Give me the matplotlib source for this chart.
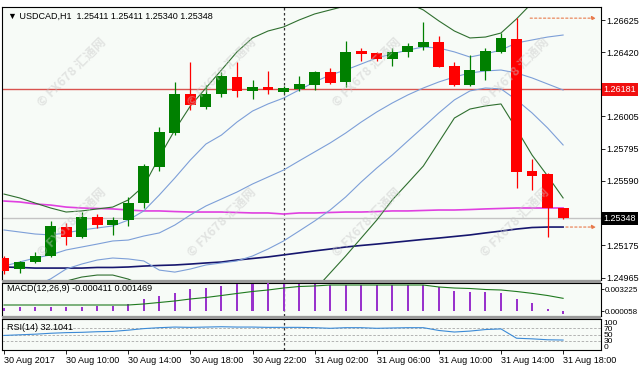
import matplotlib
matplotlib.use("Agg")
import matplotlib.pyplot as plt
import matplotlib.transforms as mtransforms
from matplotlib.patches import Rectangle

# USDCAD H1, 30 Aug 2017 06:00 -> 31 Aug 2017 18:00 (37 candles)
opens = [1.25091, 1.25020, 1.25065, 1.25104, 1.25291, 1.25227, 1.25356, 1.25304, 1.25336, 1.25446,
         1.25679, 1.25898, 1.26150, 1.26066, 1.26150, 1.26260, 1.26170, 1.26195, 1.26163, 1.26183,
         1.26208, 1.26292, 1.26228, 1.26428, 1.26415, 1.26376, 1.26422, 1.26454, 1.26486, 1.26331,
         1.26208, 1.26299, 1.26422, 1.26506, 1.25653, 1.25633, 1.25411]
highs = [1.25104, 1.25072, 1.25130, 1.25330, 1.25317, 1.25388, 1.25375, 1.25356, 1.25485, 1.25698,
         1.25937, 1.26228, 1.26357, 1.26208, 1.26292, 1.26357, 1.26241, 1.26299, 1.26202, 1.26267,
         1.26299, 1.26318, 1.26493, 1.26447, 1.26422, 1.26447, 1.26480, 1.26615, 1.26525, 1.26357,
         1.26402, 1.26447, 1.26544, 1.26640, 1.25730, 1.25640, 1.25411]
lows = [1.24988, 1.24994, 1.25059, 1.25097, 1.25175, 1.25220, 1.25285, 1.25240, 1.25298, 1.25414,
        1.25653, 1.25885, 1.26047, 1.26053, 1.26131, 1.26131, 1.26118, 1.26150, 1.26157, 1.26170,
        1.26176, 1.26215, 1.26195, 1.26363, 1.26363, 1.26331, 1.26389, 1.26434, 1.26325, 1.26202,
        1.26202, 1.26241, 1.26415, 1.25543, 1.25530, 1.25227, 1.25340]
closes = [1.25007, 1.25065, 1.25104, 1.25298, 1.25227, 1.25356, 1.25304, 1.25336, 1.25446, 1.25685,
          1.25905, 1.26150, 1.26079, 1.26150, 1.26267, 1.26170, 1.26195, 1.26176, 1.26189, 1.26215,
          1.26292, 1.26221, 1.26422, 1.26409, 1.26376, 1.26422, 1.26460, 1.26486, 1.26325, 1.26208,
          1.26305, 1.26428, 1.26512, 1.25646, 1.25621, 1.25414, 1.25348]

# bollinger bands (dev 2 dark green, dev 1 + middle light blue)
bb_up2 = [1.25504, 1.25479, 1.25446, 1.25414, 1.25388, 1.25395, 1.25408, 1.25420, 1.25466, 1.25556,
          1.25743, 1.25918, 1.26073, 1.26189, 1.26305, 1.26422, 1.26512, 1.26557, 1.26583, 1.26628,
          1.26667, 1.26693, 1.26719, 1.26745, 1.26757, 1.26757, 1.26738, 1.26693, 1.26622, 1.26557,
          1.26512, 1.26518, 1.26544, 1.26635, 1.26738, 1.26822, 1.26874]
bb_up1 = [1.25272, 1.25259, 1.25246, 1.25240, 1.25253, 1.25272, 1.25285, 1.25298, 1.25336, 1.25395,
          1.25498, 1.25608, 1.25724, 1.25827, 1.25885, 1.25969, 1.26040, 1.26086, 1.26124, 1.26176,
          1.26228, 1.26273, 1.26305, 1.26344, 1.26383, 1.26409, 1.26434, 1.26454, 1.26447, 1.26422,
          1.26389, 1.26409, 1.26434, 1.26480, 1.26499, 1.26518, 1.26531]
bb_mid = [1.25039, 1.25065, 1.25091, 1.25111, 1.25143, 1.25162, 1.25181, 1.25201, 1.25207, 1.25233,
          1.25253, 1.25304, 1.25369, 1.25427, 1.25472, 1.25517, 1.25569, 1.25614, 1.25659, 1.25718,
          1.25776, 1.25834, 1.25898, 1.25969, 1.26034, 1.26092, 1.26144, 1.26189, 1.26228, 1.26260,
          1.26286, 1.26299, 1.26305, 1.26286, 1.26254, 1.26215, 1.26176]
bb_low1 = [1.24807, 1.24858, 1.24910, 1.24956, 1.25020, 1.25052, 1.25078, 1.25091, 1.25085, 1.25072,
           1.25013, 1.25000, 1.25020, 1.25046, 1.25059, 1.25072, 1.25104, 1.25149, 1.25201, 1.25265,
           1.25330, 1.25401, 1.25485, 1.25582, 1.25672, 1.25756, 1.25847, 1.25937, 1.26028, 1.26112,
           1.26170, 1.26189, 1.26183, 1.26112, 1.26028, 1.25931, 1.25821]
bb_low2 = [1.24574, 1.24652, 1.24736, 1.24807, 1.24942, 1.24968, 1.24981, 1.24981, 1.24955, 1.24910,
           1.24762, 1.24690, 1.24665, 1.24665, 1.24639, 1.24613, 1.24626, 1.24671, 1.24736, 1.24807,
           1.24884, 1.24994, 1.25104, 1.25220, 1.25336, 1.25466, 1.25575, 1.25685, 1.25840, 1.25995,
           1.26053, 1.26073, 1.26086, 1.25924, 1.25756, 1.25621, 1.25479]

ma_magenta = [1.25459, 1.25453, 1.25440, 1.25433, 1.25420, 1.25414, 1.25411, 1.25408, 1.25401, 1.25395,
              1.25395, 1.25391, 1.25388, 1.25388, 1.25388, 1.25385, 1.25382, 1.25382, 1.25375, 1.25382,
              1.25382, 1.25385, 1.25388, 1.25388, 1.25391, 1.25395, 1.25395, 1.25398, 1.25401, 1.25401,
              1.25404, 1.25408, 1.25411, 1.25414, 1.25414, 1.25414, 1.25414]
ma_navy = [1.25033, 1.25030, 1.25026, 1.25026, 1.25026, 1.25026, 1.25030, 1.25030, 1.25033, 1.25039,
           1.25043, 1.25046, 1.25052, 1.25059, 1.25065, 1.25078, 1.25088, 1.25098, 1.25111, 1.25124,
           1.25137, 1.25149, 1.25162, 1.25172, 1.25181, 1.25191, 1.25201, 1.25211, 1.25220, 1.25230,
           1.25240, 1.25253, 1.25265, 1.25278, 1.25288, 1.25291, 1.25291]

macd_hist = [0.00044, 0.00059, 0.00059, 0.00059, 0.00059, 0.00059, 0.00073, 0.00073, 0.00103, 0.00172,
             0.00220, 0.00268, 0.00318, 0.00342, 0.00367, 0.00391, 0.00400, 0.00406, 0.00403, 0.00391,
             0.00391, 0.00381, 0.00381, 0.00381, 0.00381, 0.00381, 0.00381, 0.00381, 0.00352, 0.00293,
             0.00279, 0.00279, 0.00264, 0.00176, 0.00117, 0.00022, -0.000411]
macd_signal = [0.00088, 0.00088, 0.00088, 0.00088, 0.00088, 0.00088, 0.00088, 0.00088, 0.00088, 0.00103,
               0.00125, 0.00147, 0.00176, 0.00198, 0.00227, 0.00257, 0.00286, 0.00308, 0.00337, 0.00359,
               0.00367, 0.00381, 0.00381, 0.00381, 0.00381, 0.00381, 0.00381, 0.00381, 0.00352, 0.00337,
               0.00330, 0.00315, 0.00308, 0.00286, 0.00259, 0.00227, 0.00186]
rsi = [47, 49, 51, 54, 56, 57, 59, 60, 64, 69, 72, 74, 73, 74, 75, 74, 74, 73, 73, 73,
       72, 70, 72, 72, 70, 71, 72, 72, 63, 58, 61, 66, 68, 38, 36, 33, 32.1041]

price_ticks = [1.26625, 1.26420, 1.26210, 1.26005, 1.25795, 1.25590, 1.25380, 1.25175, 1.24965]
time_idx = [0, 4, 8, 12, 16, 20, 24, 28, 32, 36]
time_labels = ["30 Aug 2017", "30 Aug 10:00", "30 Aug 14:00", "30 Aug 18:00", "30 Aug 22:00",
               "31 Aug 02:00", "31 Aug 06:00", "31 Aug 10:00", "31 Aug 14:00", "31 Aug 18:00"]
day_sep = 18        # 31 Aug 00:00
hline_price = 1.26181
bid = 1.25348

W, H = 640, 371
FONT = ["Liberation Sans", "DejaVu Sans"]
plt.rcParams["font.family"] = FONT
plt.rcParams["font.size"] = 6.5

BG = "#f7fbf7"
UP, DN = "#008000", "#ff0000"


def rect(x0, y0, x1, y1):
    return [x0 / W, 1 - y1 / H, (x1 - x0) / W, (y1 - y0) / H]


fig = plt.figure(figsize=(W / 100, H / 100), dpi=100)
fig.patch.set_facecolor("white")
ax = fig.add_axes(rect(2, 7, 601, 280))
ax_m = fig.add_axes(rect(2, 283, 601, 316))
ax_r = fig.add_axes(rect(2, 319, 601, 350))

# gray separators between windows
for y0, y1 in [(280, 283), (316, 319)]:
    fig.patches.append(Rectangle((2 / W, 1 - y1 / H), 599 / W, (y1 - y0) / H,
                                 transform=fig.transFigure, facecolor="#9a9a9a",
                                 edgecolor="none"))

xs = list(range(len(opens)))
xlim = (-0.13, 38.44)

for a in (ax, ax_m, ax_r):
    a.set_facecolor(BG)
    a.set_xlim(*xlim)
    for s in a.spines.values():
        s.set_linewidth(0.8)
        s.set_color("black")
    a.axvline(day_sep, color="#333333", lw=0.9, ls=(0, (2, 2)), zorder=1)
    a.yaxis.tick_right()
    a.tick_params(axis="y", direction="out", length=3, width=0.6, pad=1, labelsize=6.5)
    a.tick_params(axis="x", bottom=False, labelbottom=False)

# ---- main window
ax.set_ylim(1.24949, 1.26712)
ax.axhline(hline_price, color="#d9534f", lw=1.0, zorder=1)
ax.axhline(bid, color="#c4c4c4", lw=1.0, zorder=1)

ax.plot(xs, ma_navy, color="#16166e", lw=1.2, zorder=2)
ax.plot(xs, ma_magenta, color="#e040e0", lw=1.2, zorder=2)
for band in (bb_up1, bb_mid, bb_low1):
    ax.plot(xs, band, color="#7d9fd8", lw=0.8, zorder=2)
for band in (bb_up2, bb_low2):
    ax.plot(xs, band, color="#2f6f2f", lw=0.8, zorder=2)

for i in xs:
    o, h, l, c = opens[i], highs[i], lows[i], closes[i]
    col = UP if c >= o else DN
    ax.vlines(i, l, h, color=col, lw=0.9, zorder=3)
    body = max(abs(c - o), 0.00007)
    ax.bar(i, body, bottom=min(o, c), width=0.7, color=col, lw=0, zorder=4)

# high / low dotted arrows
ax.annotate("", xy=(38.3, highs[33]), xytext=(33.7, highs[33]),
            arrowprops=dict(arrowstyle="-|>", color="#e8794a", lw=0.8, ls=(0, (2, 2)),
                            mutation_scale=6), zorder=5)
ax.annotate("", xy=(38.3, ma_navy[-1]), xytext=(36.0, ma_navy[-1]),
            arrowprops=dict(arrowstyle="-|>", color="#e8794a", lw=0.8, ls=(0, (2, 2)),
                            mutation_scale=6), zorder=5)

# ticks under the two price boxes keep their marks, the boxes cover their text
ax.set_yticks(price_ticks)
ax.set_yticklabels([f"{p:.5f}" if abs(p - hline_price) > 0.0005 and abs(p - bid) > 0.0005
                    else "" for p in price_ticks])

tr = mtransforms.blended_transform_factory(ax.transAxes, ax.transData)
ax.text(1.004, hline_price, "1.26181", transform=tr, ha="left", va="center", color="white",
        fontsize=6.5, zorder=10, clip_on=False,
        bbox=dict(boxstyle="square,pad=0.2", fc="#f01010", ec="none"))
ax.text(1.004, bid, "1.25348", transform=tr, ha="left", va="center", color="white",
        fontsize=6.5, zorder=10, clip_on=False,
        bbox=dict(boxstyle="square,pad=0.2", fc="black", ec="none"))

fig.text(8 / W, 1 - 16 / H, "\u25bc USDCAD,H1  1.25411 1.25411 1.25340 1.25348",
         fontsize=6.5, va="center", ha="left", color="black")

# ---- MACD window
ax_m.set_ylim(-0.000733, 0.004105)
ax_m.bar(xs, macd_hist, width=0.13, color="#9932cc", lw=0, zorder=3)
ax_m.plot(xs, macd_signal, color="#1f7a1f", lw=0.8, zorder=4)
ax_m.set_yticks([0.003225, 0.0])
ax_m.set_yticklabels(["0.003225", "0.000058"])
ax_m.tick_params(axis="y", labelsize=5.8, pad=0.5, length=2)
ax_m.text(0.008, 0.82, "MACD(12,26,9) -0.000411 0.001469", transform=ax_m.transAxes,
          fontsize=6.5, va="center", ha="left")

# ---- RSI window
ax_r.set_ylim(0, 100)
for lvl in (70, 50, 30):
    ax_r.axhline(lvl, color="#a8a8a8", lw=0.6, ls=(0, (3, 2)), zorder=1)
ax_r.plot(xs, rsi, color="#3b8ad6", lw=0.8, zorder=3)
ax_r.set_yticks([88, 70, 50, 30, 12])
ax_r.set_yticklabels(["100", "70", "50", "30", "0"])
ax_r.tick_params(axis="y", length=0, pad=2, labelsize=6)
ax_r.text(0.008, 0.72, "RSI(14) 32.1041", transform=ax_r.transAxes,
          fontsize=6.5, va="center", ha="left")

ax_r.tick_params(axis="x", bottom=True, labelbottom=True, direction="out", length=3,
                 width=0.6, pad=1, labelsize=6.5)
ax_r.set_xticks(time_idx)
ax_r.set_xticklabels(time_labels, ha="left")

# watermark
for cy in (72, 222):
    for cx in (72, 222, 367, 515):
        fig.text(cx / W, 1 - cy / H, "\u00a9 FX678 \u6c47\u901a\u7f51", rotation=45,
                 ha="center", va="center", fontsize=9, color="#c8c8c8", alpha=0.45,
                 family=["Noto Sans CJK SC", "DejaVu Sans"], fontweight="bold", zorder=20)

fig.savefig("out.png", dpi=100)
